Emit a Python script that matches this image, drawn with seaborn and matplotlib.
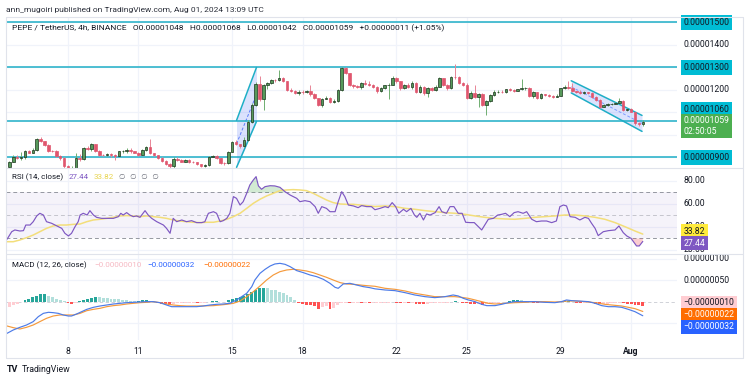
import numpy as np
import matplotlib
matplotlib.use("Agg")
import matplotlib.pyplot as plt
from matplotlib.lines import Line2D
from matplotlib.transforms import blended_transform_factory as blend
import seaborn as sns

# ==============================
# DATA (prices in units of 1e-8 USDT, 4h candles Jul 5 12:00 -> Aug 1 12:00)
# ==============================
first_open = 858
closes = [882, 904, 898, 903, 928, 922, 935, 982, 972, 955,
          930, 928, 905, 898, 862, 845, 852, 896, 892, 944,
          938, 960, 930, 912, 910, 914, 910, 908, 927, 929,
          934, 928, 922, 912, 934, 946, 920, 911, 898, 885,
          872, 860, 895, 890, 881, 890, 882, 880, 870, 862,
          866, 904, 906, 896, 876, 874, 926, 970, 960, 950,
          978, 1059, 1133, 1225, 1158, 1220, 1232, 1244, 1243, 1252,
          1240, 1200, 1196, 1185, 1192, 1190, 1194, 1180, 1163, 1133,
          1160, 1166, 1148, 1150, 1200, 1296, 1274, 1222, 1216, 1214,
          1230, 1228, 1222, 1215, 1195, 1210, 1220, 1224, 1252, 1238,
          1207, 1222, 1215, 1233, 1192, 1215, 1185, 1207, 1200, 1215,
          1252, 1222, 1207, 1259, 1258, 1230, 1222, 1165, 1185, 1170,
          1182, 1135, 1150, 1178, 1192, 1193, 1190, 1203, 1200, 1197,
          1203, 1207, 1208, 1172, 1190, 1165, 1181, 1178, 1174, 1170,
          1175, 1207, 1215, 1210, 1196, 1190, 1186, 1190, 1188, 1170,
          1156, 1126, 1133, 1136, 1138, 1141, 1152, 1111, 1115, 1104,
          1052, 1048, 1059]
highs = [885, 912, 910, 925, 932, 935, 940, 988, 992, 975,
         960, 935, 932, 910, 903, 868, 862, 922, 915, 948,
         950, 965, 962, 932, 915, 918, 918, 915, 930, 935,
         940, 940, 930, 925, 936, 950, 980, 922, 912, 900,
         888, 875, 900, 900, 892, 893, 892, 886, 882, 872,
         870, 908, 912, 912, 898, 880, 930, 975, 978, 962,
         990, 1065, 1140, 1235, 1260, 1225, 1236, 1248, 1250, 1289,
         1258, 1242, 1210, 1202, 1198, 1198, 1200, 1222, 1185, 1165,
         1166, 1172, 1170, 1160, 1205, 1300, 1300, 1276, 1225, 1220,
         1234, 1245, 1240, 1225, 1218, 1214, 1224, 1232, 1262, 1256,
         1240, 1226, 1232, 1238, 1236, 1220, 1218, 1212, 1215, 1220,
         1258, 1255, 1226, 1262, 1316, 1262, 1235, 1230, 1195, 1220,
         1188, 1186, 1155, 1182, 1198, 1198, 1200, 1206, 1208, 1204,
         1206, 1249, 1214, 1215, 1194, 1192, 1185, 1184, 1182, 1176,
         1180, 1210, 1220, 1240, 1230, 1196, 1200, 1194, 1193, 1190,
         1172, 1158, 1138, 1140, 1142, 1146, 1166, 1154, 1122, 1118,
         1100, 1058, 1068]
lows = [852, 878, 893, 890, 895, 918, 918, 930, 968, 950,
        925, 925, 900, 890, 855, 835, 838, 848, 886, 888,
        932, 930, 925, 905, 905, 905, 902, 888, 905, 920,
        920, 922, 918, 908, 910, 930, 915, 905, 892, 880,
        865, 855, 855, 884, 878, 878, 876, 874, 866, 858,
        858, 862, 900, 893, 872, 868, 870, 924, 955, 940,
        945, 975, 1055, 1130, 1150, 1111, 1205, 1228, 1236, 1238,
        1235, 1195, 1190, 1180, 1178, 1182, 1186, 1175, 1158, 1128,
        1125, 1158, 1142, 1140, 1145, 1195, 1270, 1218, 1210, 1208,
        1205, 1222, 1218, 1210, 1185, 1192, 1206, 1160, 1220, 1232,
        1200, 1204, 1210, 1205, 1185, 1188, 1178, 1168, 1195, 1196,
        1212, 1218, 1200, 1204, 1250, 1226, 1218, 1158, 1160, 1163,
        1126, 1130, 1089, 1145, 1175, 1186, 1185, 1188, 1196, 1192,
        1195, 1200, 1202, 1168, 1165, 1162, 1162, 1172, 1168, 1166,
        1168, 1172, 1205, 1206, 1190, 1186, 1182, 1184, 1182, 1166,
        1152, 1122, 1124, 1130, 1132, 1136, 1140, 1106, 1108, 1100,
        1046, 1040, 1042]

rsi_pts = [(-0.6, 29.3), (0.6, 35.9), (1.4, 37.4), (2.7, 36.5), (3.6, 36.8), (4.2, 41.7), (5.3, 41.7),
           (6.1, 44.6), (7.0, 49.6), (7.8, 51.9), (8.7, 50.4), (9.5, 44.6), (10.8, 43.2), (11.7, 41.7),
           (12.5, 40.3), (13.4, 38.8), (14.2, 34.5), (15.1, 32.2), (15.9, 34.5), (16.8, 40.3), (17.6, 44.6),
           (18.1, 50.4), (18.9, 51.9), (19.9, 50.4), (20.6, 54.2), (21.5, 50.4), (22.3, 48.4), (23.6, 47.5),
           (24.9, 47.5), (26.6, 47.5), (27.9, 49.0), (28.5, 51.9), (29.1, 50.4), (30.0, 52.5), (30.8, 50.4),
           (31.7, 49.0), (32.5, 49.6), (33.4, 48.4), (34.7, 54.2), (35.5, 50.4), (36.4, 47.5), (37.7, 44.6),
           (38.5, 43.2), (39.4, 41.7), (40.2, 38.8), (41.1, 34.5), (41.9, 47.5), (42.8, 44.6), (44.1, 46.1),
           (45.3, 44.6), (46.6, 45.5), (47.9, 43.8), (49.2, 43.8), (50.0, 44.6), (50.9, 51.9), (52.2, 53.3),
           (53.0, 51.9), (53.9, 44.6), (54.7, 45.5), (55.6, 47.5), (56.4, 51.9), (57.3, 66.4), (58.1, 64.9),
           (59.0, 59.1), (59.8, 62.0), (60.7, 69.3), (61.5, 76.5), (62.4, 80.9), (63.1, 83.8), (63.7, 75.7),
           (64.5, 72.8), (65.4, 75.1), (66.7, 75.9), (67.9, 75.7), (69.2, 74.5), (70.5, 70.7), (71.8, 67.8),
           (72.6, 66.4), (73.5, 64.9), (74.3, 62.0), (75.6, 62.9), (76.9, 62.0), (78.2, 57.7), (79.0, 51.9),
           (79.9, 57.7), (81.1, 56.2), (82.0, 53.3), (83.3, 53.3), (84.1, 62.0), (85.0, 70.7), (85.8, 66.4),
           (86.7, 59.1), (88.0, 58.3), (89.2, 56.8), (90.1, 58.6), (91.4, 57.7), (92.6, 57.7), (93.5, 55.0),
           (94.8, 56.2), (96.1, 57.7), (96.9, 56.8), (97.9, 61.2), (98.8, 57.7), (99.6, 51.9), (100.8, 55.4),
           (101.6, 53.3), (102.7, 56.2), (103.6, 50.4), (104.2, 48.4), (105.0, 51.9), (105.9, 46.1),
           (106.7, 51.3), (107.6, 50.4), (108.9, 52.5), (109.9, 57.7), (110.6, 53.3), (111.8, 51.9),
           (112.7, 57.7), (113.7, 57.7), (114.8, 51.9), (115.8, 51.9), (116.7, 44.1), (117.8, 43.8),
           (118.9, 43.8), (120.8, 37.4), (121.6, 41.7), (122.5, 46.7), (123.8, 47.5), (124.9, 50.4),
           (125.9, 51.0), (126.9, 51.9), (128.0, 49.0), (129.1, 52.5), (130.1, 53.3), (131.4, 51.9),
           (132.3, 53.3), (133.6, 46.7), (134.8, 44.6), (136.1, 45.2), (137.4, 45.2), (138.7, 43.8),
           (139.9, 45.2), (140.8, 57.7), (141.7, 59.1), (142.5, 58.3), (143.4, 49.0), (144.7, 48.4),
           (145.9, 46.1), (147.2, 48.4), (148.1, 47.5), (148.9, 43.2), (149.8, 38.8), (150.6, 32.5),
           (151.9, 35.9), (153.2, 36.8), (154.9, 37.4), (155.9, 40.9), (157.0, 35.1), (157.9, 32.2),
           (159.0, 30.1), (159.6, 27.2), (160.4, 23.5), (161.1, 23.5), (162.0, 27.44)]
rsi_x = [p[0] for p in rsi_pts]
rsi_y = [p[1] for p in rsi_pts]

rsi_ma_pts = [(-0.6, 27.2), (1.0, 27.2), (2.7, 28.7), (4.4, 30.7), (6.1, 33.0), (7.8, 35.9), (9.5, 38.8),
              (11.2, 40.9), (12.9, 41.7), (14.6, 41.7), (16.4, 42.3), (18.1, 42.6), (19.8, 44.6), (21.5, 46.1),
              (23.2, 46.7), (24.9, 47.5), (26.6, 48.4), (28.3, 49.6), (30.0, 49.9), (31.7, 49.6), (33.4, 49.0),
              (35.1, 49.6), (36.8, 49.0), (38.5, 48.4), (40.2, 47.5), (41.9, 46.1), (43.6, 45.2), (45.3, 44.6),
              (47.0, 44.1), (48.7, 43.8), (50.5, 44.1), (52.2, 44.1), (53.9, 45.2), (55.6, 46.7), (57.3, 49.0),
              (59.0, 51.9), (60.7, 56.2), (62.4, 60.6), (64.1, 64.1), (65.8, 67.0), (67.5, 69.3), (69.2, 71.6),
              (70.9, 72.2), (72.6, 72.5), (74.3, 72.2), (76.0, 71.6), (77.7, 69.3), (79.4, 66.4), (81.1, 63.5),
              (82.8, 61.2), (84.6, 60.0), (86.3, 59.7), (88.0, 59.7), (89.7, 59.1), (91.4, 58.6), (93.5, 57.8),
              (96.1, 58.3), (98.6, 57.7), (101.2, 56.2), (103.7, 55.4), (106.3, 54.2), (108.9, 53.3),
              (111.4, 52.5), (114.0, 51.9), (116.5, 51.0), (119.1, 49.6), (121.6, 48.4), (124.2, 47.5),
              (126.7, 47.0), (129.3, 46.7), (131.9, 47.5), (134.4, 48.4), (137.0, 49.0), (139.5, 49.6),
              (142.1, 50.4), (144.7, 50.4), (147.2, 49.6), (149.8, 48.4), (152.3, 46.7), (154.9, 43.8),
              (157.4, 40.3), (160.0, 36.5), (162.0, 33.82)]
rsi_ma_x = [p[0] for p in rsi_ma_pts]
rsi_ma_y = [p[1] for p in rsi_ma_pts]

macd_pts = [(-0.6, -72.9), (1.0, -65.1), (2.7, -58.9), (4.4, -53.5), (6.1, -45.7), (7.4, -34.1), (8.7, -26.4),
            (10.0, -24.0), (11.2, -24.8), (12.5, -26.4), (13.8, -30.2), (15.1, -32.6), (15.9, -32.6),
            (17.2, -27.9), (18.5, -22.5), (19.8, -17.1), (21.5, -12.4), (23.2, -9.3), (24.9, -7.0),
            (26.6, -4.7), (28.3, -3.1), (30.0, -1.6), (31.7, -0.8), (33.4, 0.0), (35.1, 0.8), (36.8, 0.8),
            (38.5, -1.6), (40.2, -7.0), (41.5, -10.9), (42.8, -10.9), (45.3, -10.9), (47.9, -10.9),
            (49.6, -9.3), (51.3, -7.0), (53.0, -5.4), (54.7, -4.7), (56.4, -3.1), (58.1, 4.7), (59.4, 12.4),
            (60.7, 20.2), (62.0, 35.7), (62.8, 51.2), (64.1, 66.7), (65.4, 76.0), (66.7, 83.7), (67.9, 88.4),
            (69.2, 89.9), (70.5, 87.6), (71.8, 82.2), (73.5, 72.9), (75.2, 68.2), (76.9, 62.8), (78.6, 58.9),
            (80.3, 52.7), (82.0, 43.4), (83.3, 34.1), (84.1, 31.8), (85.4, 41.9), (87.1, 43.4), (88.8, 39.5),
            (90.5, 35.7), (92.2, 33.3), (93.5, 30.6), (96.1, 27.9), (98.6, 26.4), (101.2, 21.7), (103.7, 16.3),
            (106.3, 12.4), (108.8, 10.1), (111.4, 12.4), (113.5, 16.3), (114.8, 14.0), (116.1, 8.5),
            (117.4, 4.7), (119.1, 0.8), (120.8, -5.4), (122.1, -8.5), (124.2, -8.5), (125.9, -5.4),
            (127.6, -1.6), (129.3, 0.8), (131.9, 0.8), (134.4, 0.8), (137.0, -0.8), (139.5, -1.6),
            (141.2, 0.8), (142.5, 4.7), (143.8, 3.1), (145.5, 2.3), (148.1, 0.8), (149.8, -3.1),
            (151.5, -8.5), (153.2, -10.9), (154.9, -10.9), (156.6, -12.4), (158.3, -17.1), (160.0, -22.5),
            (162.0, -32.0)]
macd_x = [p[0] for p in macd_pts]
macd_y = [p[1] for p in macd_pts]

signal_pts = [(-0.6, -55.8), (1.0, -59.7), (2.7, -62.8), (4.4, -58.9), (6.1, -53.5), (7.8, -45.7),
              (9.5, -38.0), (11.2, -32.6), (12.9, -30.2), (14.6, -30.2), (16.4, -30.2), (18.1, -26.4),
              (19.8, -20.2), (21.5, -17.1), (23.2, -14.7), (24.9, -10.9), (26.6, -8.5), (28.3, -7.0),
              (30.0, -4.7), (31.7, -3.1), (33.4, -1.6), (35.1, -0.8), (36.8, 0.8), (38.5, -1.6), (40.2, -4.7),
              (41.9, -7.0), (43.6, -8.5), (45.3, -9.3), (48.7, -9.3), (52.2, -8.5), (53.9, -7.0), (55.6, -5.4),
              (57.3, -3.1), (59.0, 2.3), (60.7, 12.4), (62.4, 24.0), (64.1, 37.2), (65.8, 51.2), (67.5, 62.8),
              (69.2, 70.5), (70.9, 74.4), (72.6, 76.0), (74.3, 74.4), (76.0, 72.1), (77.7, 68.2), (79.4, 62.8),
              (81.1, 57.4), (82.8, 51.2), (84.6, 45.0), (86.3, 41.9), (88.0, 41.1), (89.7, 39.5), (91.4, 38.0),
              (93.5, 36.5), (96.1, 31.8), (98.6, 29.5), (101.2, 25.6), (103.7, 20.2), (106.3, 16.3),
              (108.8, 12.4), (111.4, 12.4), (113.9, 12.4), (115.6, 10.9), (117.4, 8.5), (119.1, 4.7),
              (120.8, 0.8), (122.5, -3.1), (124.2, -4.7), (126.7, -3.1), (129.3, -1.6), (131.9, -0.8),
              (134.4, 0.8), (137.0, 0.8), (139.5, 0.0), (141.2, 0.8), (142.9, 2.3), (144.6, 2.3), (147.2, 0.8),
              (149.8, -1.6), (152.3, -5.4), (154.9, -7.8), (156.6, -9.3), (158.3, -12.4), (160.0, -15.5),
              (162.0, -22.0)]
signal_x = [p[0] for p in signal_pts]
signal_y = [p[1] for p in signal_pts]

hist = [-12, -8, -4, -0.5, 4, 7, 11, 15, 18, 19,
        15, 11, 8, 5, 2, -2, -4, -2, 2, 5,
        7, 10, 12, 11, 10, 9, 8, 7, 6, 5,
        4, 3, 2.5, 2.5, 4.5, 5, 3, 1, -1.5, -4,
        -5.5, -6, -4, -2.5, -2, -1.5, -1.5, -1.5, -2.5, -2.5,
        -1.5, 0.5, 3, 3, 1, 1, 4, 8, 10, 12,
        15, 19, 24, 29, 32, 32.5, 32, 29, 27, 24,
        21, 17, 12, 5, -2.5, -5, -6, -8, -10, -15.5,
        -11.5, -10, -15.5, -13, -8, -2.5, -1.5, -2.5, -2.5, -1.5,
        -3, -2.5, -3, -3, -2.5, -2.5, -2, -1.5, -1, -2,
        -2.5, -2, -2.5, -2, -4, -4.5, -5.5, -4, -2.5, -2,
        -1.5, -1.5, -1.5, -0.5, 1.5, 1, -1.5, -3, -4, -5.5,
        -5.5, -7.5, -5, -3.5, -2.5, -1.5, -1, 0.3, 2, 3.5,
        4, 3.5, 3, 1, -1.5, -2, -2, -2, -2, -1.5,
        -1, 1, 1.5, 1.5, -1, -1.5, -2, -2, -2, -2.5,
        -4, -5.5, -5.5, -4, -3, -2.5, -2, -3.5, -4, -5,
        -6, -8, -10]

level_lines = [1500, 1300, 1060, 900]
price_ticks = [1400, 1200, 1000]
date_ticks = [15, 33, 57, 75, 99, 117, 141, 159]
date_labels = ["8", "11", "15", "18", "22", "25", "29", "Aug"]

flag_x = [58.1, 63.2]
flag_low = [856, 1060]
flag_high = [1065, 1300]
chan_x = [143.7, 161.8]
chan_low = [1187, 1016]
chan_high = [1241, 1087]

# ==============================
# STYLE
# ==============================
sns.set_theme(style="white")
plt.rcParams['font.family'] = ['Roboto', 'DejaVu Sans']
TXT = "#131722"
GRID = "#f0f3fa"
BORDER = "#e0e3eb"
CYAN = "#1eaec6"

W, H = 750, 382
fig = plt.figure(figsize=(7.5, 3.82), dpi=100)
fig.patch.set_facecolor("white")


def fx(px):
    return px / W


def fy(py):
    return 1 - py / H


left, right = 6, 677
ax_p = fig.add_axes([fx(left), fy(168), fx(right - left), (168 - 17) / H])
ax_r = fig.add_axes([fx(left), fy(254), fx(right - left), (254 - 168) / H])
ax_m = fig.add_axes([fx(left), fy(340), fx(right - left), (340 - 254) / H])

XLIM = (-0.86, 170.75)
for ax in (ax_p, ax_r, ax_m):
    ax.set_xlim(*XLIM)
    ax.set_xticks([])
    ax.set_yticks([])
    for s in ax.spines.values():
        s.set_visible(False)
    ax.set_facecolor("none")
    for t in date_ticks:
        ax.axvline(t, color=GRID, lw=0.9, zorder=0)

ax_p.set_ylim(853.3, 1524.4)
ax_r.set_ylim(16.5, 91.3)
ax_m.set_ylim(-88.4, 111.6)

# frame lines
for seg in [((6, 743), (17, 17)), ((6, 743), (168, 168)), ((6, 743), (254, 254)),
            ((6, 743), (358, 358)), ((6, 6), (17, 358)), ((743, 743), (17, 358))]:
    fig.add_artist(Line2D([fx(seg[0][0]), fx(seg[0][1])], [fy(seg[1][0]), fy(seg[1][1])],
                          color=BORDER, lw=0.8))

# ==============================
# PRICE PANE
# ==============================
for v in range(900, 1501, 100):
    ax_p.axhline(v, color=GRID, lw=0.9, zorder=0)

c = np.array(closes, dtype=float)
o = np.r_[first_open, c[:-1]]
hi = np.maximum(np.array(highs, dtype=float), np.maximum(o, c))
lo = np.minimum(np.array(lows, dtype=float), np.minimum(o, c))
idx = np.arange(len(c))
up = c >= o

ax_p.fill_between(flag_x, flag_low, flag_high, color="#5c7cfa", alpha=0.22, lw=0, zorder=1)
ax_p.plot(flag_x, flag_low, color=CYAN, lw=1.1, zorder=2)
ax_p.plot(flag_x, flag_high, color=CYAN, lw=1.1, zorder=2)
ax_p.plot(flag_x, [(a + b) / 2 for a, b in zip(flag_low, flag_high)], color="#5c7cfa",
          lw=0.7, ls=(0, (3, 2)), zorder=2)
ax_p.fill_between(chan_x, chan_low, chan_high, color="#5c7cfa", alpha=0.22, lw=0, zorder=1)
ax_p.plot(chan_x, chan_low, color=CYAN, lw=1.1, zorder=2)
ax_p.plot(chan_x, chan_high, color=CYAN, lw=1.1, zorder=2)
ax_p.plot(chan_x, [(a + b) / 2 for a, b in zip(chan_low, chan_high)], color="#7d9bff",
          lw=0.7, ls=(0, (3, 2)), zorder=2)

for v in level_lines:
    ax_p.axhline(v, color=CYAN, lw=1.1, zorder=2)

ax_p.vlines(idx, lo, hi, colors=np.where(up, "#6fae70", "#e88596"), lw=0.7, zorder=3)
body = np.maximum(np.abs(c - o), 1.2)
ax_p.bar(idx, body, bottom=np.minimum(o, c), width=0.64,
         color=np.where(up, "#56995a", "#e0566e"),
         edgecolor=np.where(up, "#1b331c", "#e0566e"), linewidth=0.5, zorder=4)

# ==============================
# RSI PANE
# ==============================
for v in (20, 40, 60, 80):
    ax_r.axhline(v, color=GRID, lw=0.9, zorder=0)
ax_r.axhspan(30, 70, color="#7e57c2", alpha=0.07, lw=0, zorder=0)
for v, a in ((70, 1.0), (50, 0.5), (30, 1.0)):
    ax_r.axhline(v, color="#9598a1", lw=0.7, ls=(0, (4, 3)), alpha=a, zorder=1)
rx, ry = np.array(rsi_x), np.array(rsi_y)
ax_r.fill_between(rx, ry, 70, where=ry > 70, interpolate=True, color="#4caf50", alpha=0.25, lw=0)
ax_r.fill_between(rx, ry, 30, where=ry < 30, interpolate=True, color="#f23645", alpha=0.25, lw=0)
sns.lineplot(x=rsi_ma_x, y=rsi_ma_y, ax=ax_r, color="#f3de7a", lw=1.1, zorder=2)
sns.lineplot(x=rsi_x, y=rsi_y, ax=ax_r, color="#7e57c2", lw=0.85, zorder=3)

# ==============================
# MACD PANE
# ==============================
for v in (-50, 50, 100):
    ax_m.axhline(v, color=GRID, lw=0.9, zorder=0)
ax_m.axhline(0, color="#c9cbd2", lw=0.6, ls=(0, (4, 3)), zorder=0)
hcol = []
for i, h in enumerate(hist):
    prev = hist[i - 1] if i else h
    if h >= 0:
        hcol.append("#26a69a" if h >= prev else "#b2dfdb")
    else:
        hcol.append("#ff5252" if h < prev else "#ffcdd2")
ax_m.bar(idx, hist, width=0.75, color=hcol, lw=0, zorder=1)
sns.lineplot(x=signal_x, y=signal_y, ax=ax_m, color="#f59a3c", lw=0.85, zorder=2)
sns.lineplot(x=macd_x, y=macd_y, ax=ax_m, color="#4c7be8", lw=0.85, zorder=3)

for ax in (ax_p, ax_r, ax_m):
    ax.set_xlabel("")
    ax.set_ylabel("")
    ax.set_xticks([])
    ax.set_yticks([])

# ==============================
# RIGHT SCALE LABELS
# ==============================
FS = 6.2


def rlabel(ax, y, text, bg=None, fg=TXT, z=5):
    kw = dict(transform=blend(ax.transAxes, ax.transData), ha="left", va="center",
              fontsize=FS, color=fg, clip_on=False, zorder=z)
    if bg is not None:
        kw["bbox"] = dict(boxstyle="square,pad=0.32", fc=bg, ec="none")
    ax.text(1.0095, y, text, **kw)


def pfmt(v):
    return f"{v / 1e8:.8f}"


# scale values partly hidden behind the value labels, as on the reference
for v in price_ticks:
    rlabel(ax_p, v, pfmt(v), z=3)
rlabel(ax_p, 1500, pfmt(1500), bg="#00bcd4")
rlabel(ax_p, 1300, pfmt(1300), bg="#00bcd4")
rlabel(ax_p, 1113, pfmt(1060), bg="#00bcd4")
rlabel(ax_p, 900, pfmt(900), bg="#00bcd4")
rlabel(ax_p, 1040, pfmt(closes[-1]) + "\n02:50:05", bg="#4caf50", fg="white", z=6)

for v in (80, 60, 40, 20):
    rlabel(ax_r, v, f"{v:.2f}", z=3)
rlabel(ax_r, 36.3, "33.82", bg="#ffeb3b")
rlabel(ax_r, 26.0, "27.44", bg="#7e57c2", fg="white")

for v in (100, 50, 0):
    rlabel(ax_m, v, pfmt(v), z=3)
rlabel(ax_m, -2.3, "\u22120.00000010", bg="#ffcdd2")
rlabel(ax_m, -30.2, "\u22120.00000022", bg="#ff6d00", fg="white")
rlabel(ax_m, -58.1, "\u22120.00000032", bg="#2962ff", fg="white")

# date labels
for t, lab in zip(date_ticks, date_labels):
    ax_m.text(t, -0.128, lab, transform=blend(ax_m.transData, ax_m.transAxes), ha="center",
              va="center", fontsize=FS, color=TXT, fontweight="bold" if lab == "Aug" else "normal")

# ==============================
# TITLES / LEGENDS
# ==============================
LFS = 5.8
fig.text(fx(6), fy(10), "ann_mugoiri published on TradingView.com, Aug 01, 2024 13:09 UTC",
         fontsize=6.0, color="#2a2e39", va="center")
fig.text(fx(12), fy(28), "PEPE / TetherUS, 4h, BINANCE   O0.00001048   H0.00001068   L0.00001042   "
         "C0.00001059   +0.00000011 (+1.05%)", fontsize=6.0, color=TXT, va="center")

fig.text(fx(12), fy(177), "RSI (14, close)", fontsize=LFS, color=TXT, va="center")
fig.text(fx(69), fy(177), "27.44", fontsize=LFS, color="#7e57c2", va="center")
fig.text(fx(94), fy(177), "33.82", fontsize=LFS, color="#e8d44d", va="center")
fig.text(fx(119), fy(177), "\u2205  \u2205  \u2205  \u2205", fontsize=LFS - 0.5, color="#6a6d78",
         va="center", family=["DejaVu Sans"])

fig.text(fx(12), fy(265), "MACD (12, 26, close)", fontsize=LFS, color=TXT, va="center")
fig.text(fx(94), fy(265), "\u22120.00000010", fontsize=LFS, color="#f6b8c2", va="center")
fig.text(fx(147), fy(265), "\u22120.00000032", fontsize=LFS, color="#2962ff", va="center")
fig.text(fx(203), fy(265), "\u22120.00000022", fontsize=LFS, color="#ff6d00", va="center")

fig.text(fx(7), fy(370), "TV", fontsize=6.5, color=TXT, va="center", fontweight="bold")
fig.text(fx(22), fy(370), "TradingView", fontsize=6.3, color=TXT, va="center")

plt.savefig("out.png", dpi=100)
